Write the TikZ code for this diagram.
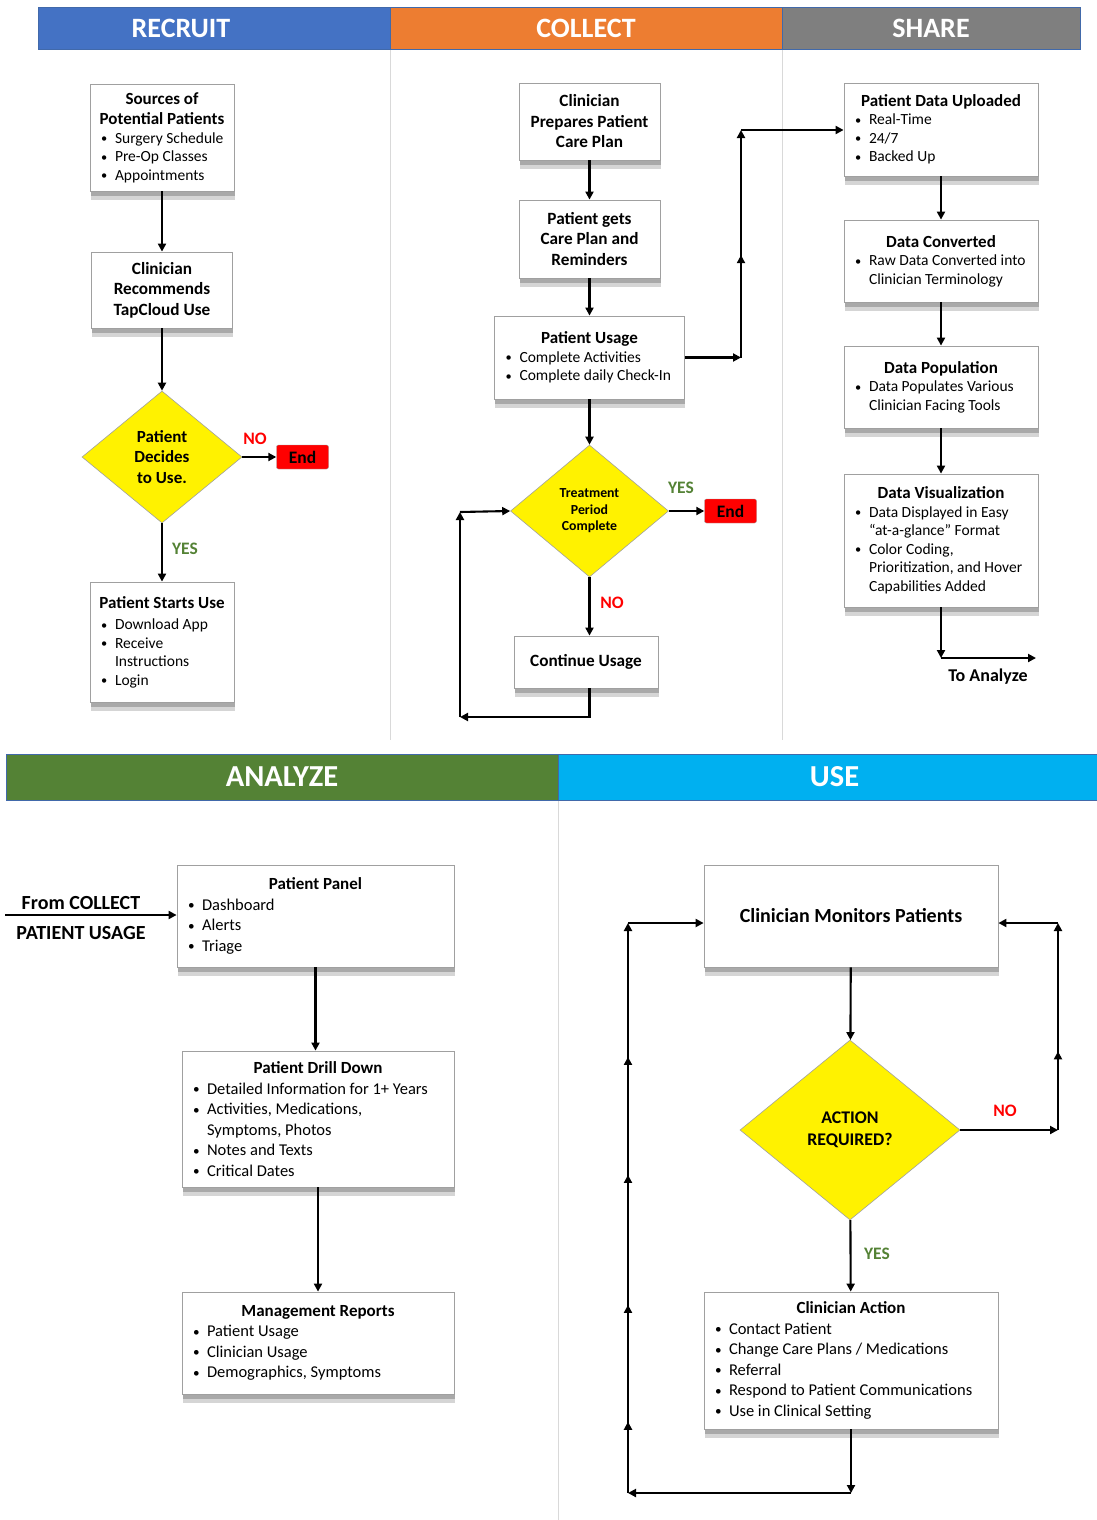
\documentclass[tikz,border=0pt]{standalone}
\usepackage{fontspec}
\usepackage{graphicx}
\setmainfont{Carlito}
\usetikzlibrary{shapes.geometric, arrows.meta, shadows, decorations.markings}

\definecolor{recblue}{RGB}{68,114,196}
\definecolor{colorange}{RGB}{237,125,49}
\definecolor{sharegray}{RGB}{127,127,127}
\definecolor{anagreen}{RGB}{84,130,53}
\definecolor{usecyan}{RGB}{0,176,240}
\definecolor{yesgreen}{RGB}{84,130,53}
\definecolor{boxgray}{RGB}{160,160,160}
\definecolor{sepgray}{RGB}{217,217,217}
\definecolor{hdrline}{RGB}{65,105,170}

\newcommand{\ttl}[1]{{\centering\bfseries\fontsize{17}{20.5}\selectfont\spaceskip=0pt\xspaceskip=0pt\noindent #1\par}}
\newcommand{\itm}[1]{\par\hangindent=17pt\hangafter=1\spaceskip=0pt\xspaceskip=0pt\noindent\makebox[17pt][l]{\hspace{3pt}\raisebox{0.5pt}{\scalebox{0.8}{\textbullet}}}#1\par}

\tikzset{
  box/.style={draw=boxgray, fill=white, line width=0.8pt,
    drop shadow={shadow xshift=0.5pt, shadow yshift=-9pt, fill=black!55, opacity=0.3},
    drop shadow={shadow xshift=0.5pt, shadow yshift=-5pt, fill=black!55, opacity=0.45},
    align=flush left, inner xsep=8pt, inner ysep=2pt, font=\fontsize{15.5}{18.5}\selectfont},
  bbox/.style={box, font=\fontsize{16.5}{20.5}\selectfont},
  cbox/.style={box, align=flush center, font=\bfseries\fontsize{17.2}{20.5}\selectfont},
  decision/.style={diamond, draw=boxgray, fill=yellow, line width=0.6pt, inner sep=0pt,
    align=flush center, font=\bfseries\fontsize{17}{20.5}\selectfont},
  endbox/.style={draw=boxgray, fill=red, rounded corners=2pt, minimum width=52pt,
    minimum height=24pt, inner sep=0pt, font=\bfseries\fontsize{17.5}{20}\selectfont},
  line/.style={line width=2.1pt},
  arr/.style={line, -{Triangle[length=8pt,width=8pt]}},
  midtip/.style={postaction={decorate, decoration={markings,
    mark=at position #1 with {\arrow{Triangle[length=8pt,width=8pt]}}}}},
  header/.style={draw=hdrline, line width=0.6pt, minimum height=42pt, inner sep=0pt,
    text=white, font=\bfseries\fontsize{28}{30}\selectfont},
  hdrtext/.style={text=white, font=\bfseries\fontsize{28}{30}\selectfont},
  yes/.style={text=yesgreen, font=\bfseries\fontsize{17.5}{20}\selectfont},
  no/.style={text=red, font=\bfseries\fontsize{17.5}{20}\selectfont},
  note/.style={font=\bfseries\fontsize{20}{22}\selectfont},
  sep/.style={draw=sepgray, line width=0.8pt}
}

\begin{document}
\begin{tikzpicture}[x=1pt, y=-1pt]
  \useasboundingbox (0,0) rectangle (1097,1520);

  % Lanes:
  \draw[sep] (390,49) -- (390,740);
  \draw[sep] (782,49) -- (782,740);
  \draw[sep] (558,800) -- (558,1520);
  \node[header, fill=recblue, minimum width=352pt,
    label={[hdrtext, xshift=-33pt]center:RECRUIT}] (hrec) at (214,28) {};
  \node[header, fill=colorange, minimum width=392pt] (hcol) at (586,28) {COLLECT};
  \node[header, fill=sharegray, minimum width=298pt] (hsha) at (931,28) {SHARE};
  \node[header, fill=anagreen, minimum width=552pt, minimum height=46pt,
    font=\bfseries\fontsize{30.5}{32}\selectfont] (hana) at (282,777) {ANALYZE};
  \node[header, fill=usecyan, minimum width=539pt, minimum height=46pt,
    font=\bfseries\fontsize{30.5}{32}\selectfont] (huse) at (827.5,777) {\hspace{14pt}USE};

  % Recruit:
  \node[box, text width=128pt, minimum height=107pt] (src) at (162,137.5)
    {\ttl{Sources of\\Potential Patients}\itm{Surgery Schedule}\itm{Pre-Op Classes}\itm{Appointments}};
  \node[cbox, minimum width=141pt, minimum height=76pt] (rec) at (162,290)
    {Clinician\\Recommends\\TapCloud Use};
  \node[decision, minimum width=160pt, minimum height=132pt] (dec1) at (162,457)
    {Patient\\Decides\\to Use.};
  \node[endbox] (end1) at (302.5,457) {End};
  \node[no] (no1) at (255,439) {NO};
  \node[yes] (yes1) at (185,549) {YES};
  \node[box, text width=128pt, minimum height=120pt] (start) at (162,642)
    {\ttl{Patient Starts Use}\vspace{3pt}\itm{Download App}\itm{Receive\newline Instructions}\itm{Login}};
  \draw[arr] (src) -- (rec);
  \draw[arr] (rec) -- (dec1);
  \draw[arr] (dec1.east) -- (end1.west);
  \draw[arr] (dec1.south) -- (start.north);

  % Collect:
  \node[cbox, minimum width=141pt, minimum height=77pt] (prep) at (589.5,121.5)
    {Clinician\\Prepares Patient\\Care Plan};
  \node[cbox, minimum width=141pt, minimum height=78pt] (gets) at (589.5,239)
    {Patient gets\\Care Plan and\\Reminders};
  \node[box, text width=174pt, minimum height=83pt] (pu) at (589.5,357.5)
    {\ttl{Patient Usage}\itm{Complete Activities}\itm{Complete daily Check-In}};
  \node[decision, minimum width=158pt, minimum height=132pt,
    font=\bfseries\fontsize{13.8}{16.5}\selectfont] (dec2) at (589.5,511)
    {Treatment\\Period\\Complete};
  \node[endbox] (end2) at (730.5,511) {End};
  \node[yes] (yes2) at (681,488) {YES};
  \node[no] (no2) at (612,603) {NO};
  \node[cbox, minimum width=144pt, minimum height=52pt] (cont) at (586,662) {Continue Usage};
  \coordinate (cs) at (741,130);
  \coordinate (clb) at (460,717);
  \coordinate (clt) at (460,512);
  \draw[arr] (prep) -- (gets);
  \draw[arr] (gets) -- (pu);
  \draw[arr] (pu) -- (dec2);
  \draw[arr] (dec2.east) -- (end2.west);
  \draw[arr] (dec2.south) -- (dec2.south |- cont.north);
  \draw[arr] (dec2.south |- cont.south) |- (clb);
  \draw[arr] (clb) -- (clt);
  \draw[arr] (clt) -- (dec2.west);
  \draw[arr] (pu.east) -- (pu.east -| cs);
  \draw[arr, midtip=0.45] (pu.east -| cs) -- (cs);

  % Share:
  \node[box, text width=178pt, minimum height=93pt] (pdu) at (941,129.5)
    {\ttl{Patient Data Uploaded}\itm{Real-Time}\itm{24/7}\itm{Backed Up}};
  \node[box, text width=178pt, minimum height=82pt] (conv) at (941,261)
    {\ttl{Data Converted}\itm{Raw Data Converted into\newline Clinician Terminology}};
  \node[box, text width=178pt, minimum height=82pt] (popu) at (941,387)
    {\ttl{Data Population}\itm{Data Populates Various\newline Clinician Facing Tools}};
  \node[box, text width=178pt, minimum height=133pt] (vis) at (941,540.5)
    {\ttl{Data Visualization}\itm{Data Displayed in Easy\newline “at-a-glance” Format}\itm{Color Coding,\newline Prioritization, and Hover\newline Capabilities Added}};
  \node[font=\bfseries\fontsize{18}{20}\selectfont] (toantxt) at (988,677) {To Analyze};
  \coordinate (toan) at (1036,658);
  \draw[arr] (cs) -- (cs -| pdu.west);
  \draw[arr] (pdu) -- (conv);
  \draw[arr] (conv) -- (popu);
  \draw[arr] (popu) -- (vis);
  \draw[arr] (vis.south) -- (vis.south |- toan);
  \draw[arr] (vis.south |- toan) -- (toan);

  % Analyze:
  \node[bbox, text width=261pt, minimum height=102pt] (panel) at (315.5,916)
    {\ttl{Patient Panel}\itm{Dashboard}\itm{Alerts}\itm{Triage}};
  \node[bbox, text width=256pt, minimum height=136pt] (drill) at (318,1119)
    {\ttl{Patient Drill Down}\itm{Detailed Information for 1+ Years}\itm{Activities, Medications,\newline Symptoms, Photos}\itm{Notes and Texts}\itm{Critical Dates}};
  \node[bbox, text width=256pt, minimum height=102pt] (mgmt) at (318,1343)
    {\ttl{Management Reports}\itm{Patient Usage}\itm{Clinician Usage}\itm{Demographics, Symptoms}};
  \node[note] (fromtxt) at (81,903) {From COLLECT};
  \node[note] (pattxt) at (81,933) {PATIENT USAGE};
  \coordinate (fromc) at (5,915);
  \draw[arr] (fromc) -- (fromc -| panel.west);
  \draw[arr] (panel.south) -- (panel.south |- drill.north);
  \draw[arr] (drill) -- (mgmt);

  % Use:
  \node[cbox, minimum width=294pt, minimum height=102pt,
    font=\bfseries\fontsize{20}{22}\selectfont] (mon) at (851,916) {Clinician Monitors Patients};
  \node[decision, minimum width=220pt, minimum height=180pt,
    font=\bfseries\fontsize{17.8}{22.5}\selectfont] (dec3) at (850,1130) {ACTION\\REQUIRED?};
  \node[no] (no3) at (1005,1111) {NO};
  \node[yes] (yes3) at (877,1254) {YES};
  \node[bbox, text width=278pt, minimum height=137pt] (act) at (851,1360.5)
    {\ttl{Clinician Action}\itm{Contact Patient}\itm{Change Care Plans / Medications}\itm{Referral}\itm{Respond to Patient Communications}\itm{Use in Clinical Setting}};
  \coordinate (urt) at (1058,923);
  \coordinate (ulb) at (628,1493);
  \coordinate (ult) at (628,923);
  \draw[arr] (mon) -- (dec3);
  \draw[arr] (dec3) -- (act);
  \draw[arr] (dec3.east) -- (dec3.east -| urt);
  \draw[arr, midtip=0.38] (dec3.east -| urt) -- (urt);
  \draw[arr] (urt) -- (urt -| mon.east);
  \draw[arr] (act.south) -- (act.south |- ulb);
  \draw[arr] (act.south |- ulb) -- (ulb);
  \draw[arr, midtip=0.125, midtip=0.33, midtip=0.558, midtip=0.765] (ulb) -- (ult);
  \draw[arr] (ult) -- (ult -| mon.west);
\end{tikzpicture}
\end{document}
